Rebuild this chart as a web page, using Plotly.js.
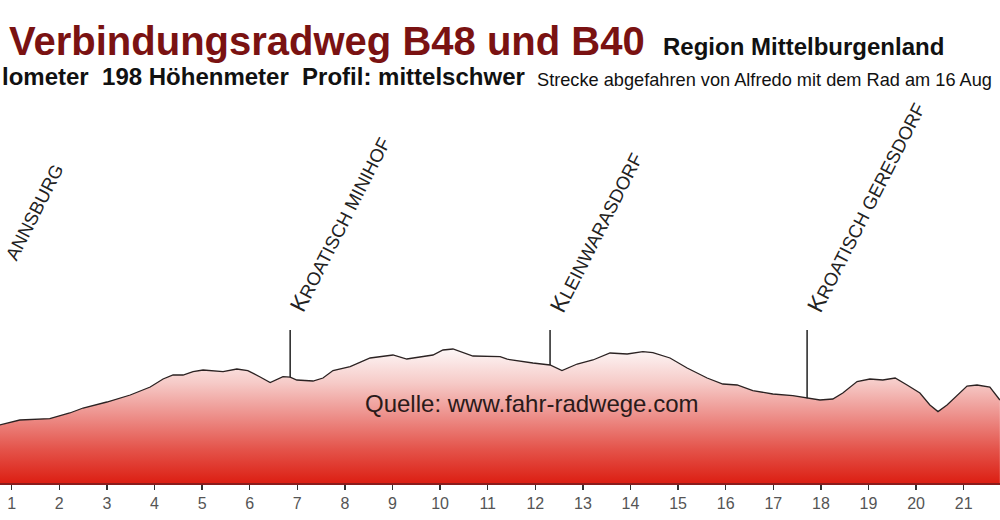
<!DOCTYPE html>
<html><head><meta charset="utf-8">
<script src="https://cdn.plot.ly/plotly-3.0.1.min.js"></script>
<style>html,body{margin:0;padding:0;background:#fff;overflow:hidden}#chart{width:1000px;height:520px}</style>
</head><body><div id="chart"></div>
<script>
// ---- data (km along route, elevation in m) ----
const kmValues = [0.75,1.17,1.80,2.22,2.50,3.00,3.49,3.91,4.18,4.39,4.60,4.81,5.02,5.44,5.73,5.96,6.22,6.43,6.70,6.85,6.99,7.33,7.54,7.75,8.11,8.53,9.01,9.30,9.85,10.06,10.27,10.69,11.26,11.41,11.95,12.31,12.56,12.88,13.21,13.57,13.93,14.26,14.47,14.83,15.19,15.61,15.94,16.24,16.57,16.99,17.41,17.71,17.98,18.25,18.46,18.76,19.03,19.30,19.56,19.81,20.08,20.29,20.46,20.65,20.86,21.07,21.28,21.55,21.76];
const elevation = [209.0,211.5,212.2,215.0,217.5,220.5,224.0,228.0,232.0,234.0,234.0,235.7,236.5,235.7,237.0,236.2,233.0,230.2,233.2,232.9,231.5,231.0,232.5,236.2,238.2,242.5,244.0,242.0,244.0,246.5,247.0,243.5,243.2,241.9,240.0,239.0,236.2,239.5,241.5,245.0,244.5,245.7,245.2,242.5,237.5,232.5,229.5,229.0,226.2,224.5,223.7,222.4,221.5,222.0,225.0,230.7,232.0,231.5,232.5,229.0,225.0,219.0,215.7,219.0,224.0,228.5,229.0,228.0,221.5];
const placeNames = ['KROATISCH MINIHOF','KLEINWARASDORF','KROATISCH GERESDORF'];
const placeKm = [6.85, 12.31, 17.71];
const partialPlaceName = 'ANNSBURG';
const tickValues = [1,2,3,4,5,6,7,8,9,10,11,12,13,14,15,16,17,18,19,20,21];
const tickLabels = ['1','2','3','4','5','6','7','8','9','10','11','12','13','14','15','16','17','18','19','20','21'];
const titleText = 'Verbindungsradweg B48 und B40';
const regionText = 'Region Mittelburgenland';
const statsText = 'lometer&nbsp;&nbsp;198 Höhenmeter&nbsp;&nbsp;Profil: mittelschwer';
const rideText = 'Strecke abgefahren von Alfredo mit dem Rad am 16 Aug';
const sourceText = 'Quelle: www.fahr-radwege.com';

// ---- layout geometry ----
const W = 1000, H = 520, BOTTOM_MARGIN = 37;
const PX_PER_KM = 47.6, PX_OF_KM1 = 11.7;
const ELEV_BASE = 180, PX_PER_M = 2;
const plotH = H - BOTTOM_MARGIN;
const kmAtPx = px => 1 + (px - PX_OF_KM1) / PX_PER_KM;
const elevAtPy = py => ELEV_BASE + (plotH - py) / PX_PER_M;
const FONT = '"Liberation Sans", Arial, sans-serif';

function interp(x){
  for (let i = 1; i < kmValues.length; i++){
    if (x <= kmValues[i]){
      const t = (x - kmValues[i-1]) / (kmValues[i] - kmValues[i-1]);
      return elevation[i-1] + t * (elevation[i] - elevation[i-1]);
    }
  }
  return elevation[elevation.length-1];
}
function smallCaps(name, big){
  return '<span style="font-size:' + big + 'px">' + name[0] + '</span>' + name.slice(1);
}

const trace = {
  x: kmValues, y: elevation, type: 'scatter', mode: 'lines',
  line: {color: '#2b2222', width: 1.3},
  fill: 'tozeroy',
  fillgradient: {type: 'vertical', start: ELEV_BASE, stop: 247,
    colorscale: [[0,'#dc1f13'],[0.25,'#e4534a'],[0.5,'#ed8f8a'],[0.75,'#f6cbc8'],[1,'#fdf7f7']]},
  hoverinfo: 'skip'
};

const markerTop = elevAtPy(330);
const shapes = placeKm.map(k => ({
  type: 'line', xref: 'x', yref: 'y', x0: k, x1: k, y0: interp(k), y1: markerTop,
  line: {color: '#222', width: 1.5}
}));

const labelFont = {family: FONT, size: 18.5, color: '#222'};
const annotations = placeNames.map((n, i) => ({
  xref: 'x', yref: 'y', x: placeKm[i] - 8 / PX_PER_KM, y: elevAtPy(319),
  xanchor: 'left', yanchor: 'bottom', textangle: -63, showarrow: false,
  text: smallCaps(n, 23), font: labelFont
}));
annotations.push({
  xref: 'x', yref: 'y', x: kmAtPx(70), y: elevAtPy(158),
  xanchor: 'right', yanchor: 'top', textangle: -63, showarrow: false,
  text: partialPlaceName, font: labelFont
});
const py2paper = py => (plotH - py) / plotH;
annotations.push(
  {xref:'paper', yref:'paper', x: 661/W, y: py2paper(46), xanchor:'left', yanchor:'middle', showarrow:false,
   text: regionText, font:{family: FONT, size: 24, color:'#111', weight:'bold'}},
  {xref:'paper', yref:'paper', x: 0, y: py2paper(76), xanchor:'left', yanchor:'middle', showarrow:false,
   text: statsText, font:{family: FONT, size: 24, color:'#111', weight:'bold'}},
  {xref:'paper', yref:'paper', x: 535/W, y: py2paper(80), xanchor:'left', yanchor:'middle', showarrow:false,
   text: rideText, font:{family: FONT, size: 18.2, color:'#111'}},
  {xref:'paper', yref:'paper', x: 531/W, y: py2paper(403), xanchor:'center', yanchor:'middle', showarrow:false,
   text: sourceText, font:{family: FONT, size: 24, color:'#2a1a1a'}}
);

const layout = {
  width: W, height: H,
  margin: {l: 0, r: 0, t: 0, b: BOTTOM_MARGIN},
  paper_bgcolor: '#fff', plot_bgcolor: '#fff',
  showlegend: false,
  title: {text: titleText, xref: 'container', x: 9 / W, xanchor: 'left',
    yref: 'container', y: 1 - 41 / H, yanchor: 'middle',
    font: {family: FONT, size: 40, color: '#7a1212', weight: 'bold'}},
  xaxis: {range: [kmAtPx(0), kmAtPx(W)], tickvals: tickValues, ticktext: tickLabels,
    ticks: 'outside', ticklen: 5, tickwidth: 1.5, tickcolor: '#333',
    tickfont: {family: FONT, size: 16, color: '#555'},
    showline: true, linecolor: '#8a1c1c', linewidth: 2,
    showgrid: false, zeroline: false, fixedrange: true},
  yaxis: {range: [ELEV_BASE, elevAtPy(0)], visible: false, showgrid: false, zeroline: false, fixedrange: true},
  shapes: shapes,
  annotations: annotations
};

Plotly.newPlot('chart', [trace], layout, {displayModeBar: false, staticPlot: true});
</script></body></html>
